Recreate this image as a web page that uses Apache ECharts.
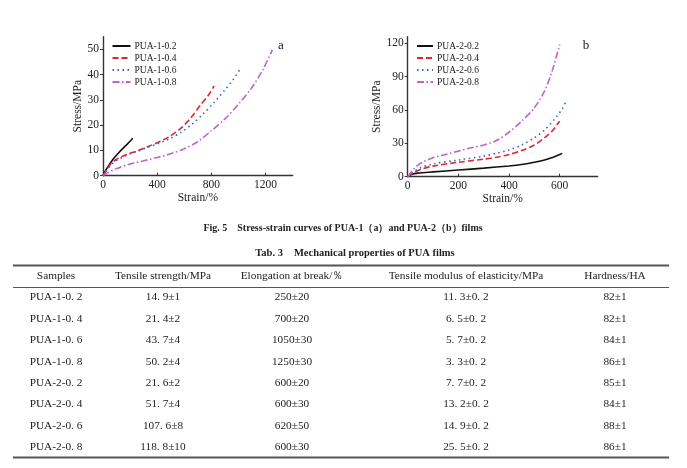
<!DOCTYPE html>
<html>
<head>
<meta charset="utf-8">
<script src="https://cdn.jsdelivr.net/npm/echarts@6/dist/echarts.min.js"></script>
<style>
  html, body { margin: 0; padding: 0; background: #fff; }
  #main { width: 687px; height: 468px; }
</style>
</head>
<body>
<div id="main"></div>
<script>
// Fig. 5 (a): strain %, stress MPa
const pua1_02 = [[0, 0], [10, 1.2], [37, 3.6], [74, 6.5], [123, 9.5], [172, 12.1], [220, 14.8]];
const pua1_04 = [[0, 0], [30, 2.5], [60, 4.8], [100, 6.5], [170, 8.3], [250, 9.8], [330, 11.5], [420, 13.5],
  [500, 15.8], [580, 19], [650, 23], [720, 28], [780, 32], [820, 35.5]];
const pua1_06 = [[0, 0], [30, 2.3], [60, 4.3], [100, 6], [170, 8], [250, 9.6], [330, 11.2], [420, 13],
  [500, 14.8], [580, 17.3], [660, 20.5], [740, 24.5], [820, 29], [900, 34], [960, 38], [1010, 42]];
const pua1_08 = [[0, 0], [40, 1.3], [100, 2.8], [200, 4.6], [300, 5.9], [400, 7.2], [500, 8.7], [600, 10.7],
  [700, 13.5], [800, 17.8], [900, 22.5], [1000, 28.3], [1100, 35], [1180, 42], [1250, 49.8]];

// Fig. 5 (b)
const pua2_02 = [[0, 0], [15, 2], [40, 3.2], [100, 4.3], [200, 6], [300, 7.7], [400, 9.7], [450, 11],
  [500, 13], [550, 15.7], [590, 19], [610, 21]];
const pua2_04 = [[0, 0], [20, 3], [50, 6.5], [100, 9.5], [200, 13], [300, 15.8], [350, 17.5], [400, 20],
  [450, 23.5], [500, 28.5], [540, 35], [570, 41], [590, 47], [600, 50]];
const pua2_06 = [[0, 0], [20, 4], [50, 8], [100, 11.5], [200, 15], [300, 18.5], [350, 21], [400, 24],
  [450, 28.5], [500, 35], [540, 42], [580, 52], [610, 61], [625, 68]];
const pua2_08 = [[0, 0], [20, 6], [50, 12], [100, 17], [150, 20], [200, 23], [250, 26], [300, 28.5],
  [350, 32.5], [400, 40], [450, 50], [500, 62], [540, 77], [570, 95], [600, 119]];

const namesA = ['PUA-1-0.2', 'PUA-1-0.4', 'PUA-1-0.6', 'PUA-1-0.8'];
const namesB = ['PUA-2-0.2', 'PUA-2-0.4', 'PUA-2-0.6', 'PUA-2-0.8'];

const xTicksA = [0, 400, 800, 1200];
const yTicksA = [0, 10, 20, 30, 40, 50];
const xTicksB = [0, 200, 400, 600];
const yTicksB = [0, 30, 60, 90, 120];

// Tab. 3
const tableTitle = 'Tab. 3\u3000Mechanical properties of PUA films';
const caption = 'Fig. 5\u3000Stress-strain curves of PUA-1\uff08a\uff09and PUA-2\uff08b\uff09films';
const headers = ['Samples', 'Tensile strength/MPa', 'Elongation at break/\uff05', 'Tensile modulus of elasticity/MPa', 'Hardness/HA'];
const samples = ['PUA-1-0. 2', 'PUA-1-0. 4', 'PUA-1-0. 6', 'PUA-1-0. 8', 'PUA-2-0. 2', 'PUA-2-0. 4', 'PUA-2-0. 6', 'PUA-2-0. 8'];
const tensile = ['14. 9\u00b11', '21. 4\u00b12', '43. 7\u00b14', '50. 2\u00b14', '21. 6\u00b12', '51. 7\u00b14', '107. 6\u00b18', '118. 8\u00b110'];
const elongation = ['250\u00b120', '700\u00b120', '1050\u00b130', '1250\u00b130', '600\u00b120', '600\u00b130', '620\u00b150', '600\u00b130'];
const modulus = ['11. 3\u00b10. 2', '6. 5\u00b10. 2', '5. 7\u00b10. 2', '3. 3\u00b10. 2', '7. 7\u00b10. 2', '13. 2\u00b10. 2', '14. 9\u00b10. 2', '25. 5\u00b10. 2'];
const hardness = ['82\u00b11', '82\u00b11', '84\u00b11', '86\u00b11', '85\u00b11', '84\u00b11', '88\u00b11', '86\u00b11'];

const FONT = '"Liberation Serif", "Times New Roman", serif';
const colors = ['#111111', '#e8232b', '#3b62c8', '#c462c8'];
const dashes = ['solid', [6, 3], [1.5, 3.5], [7, 2.5, 1.5, 2.5]];

const chart = echarts.init(document.getElementById('main'));

function axisX(gridIndex, max, ticks) {
  return {
    type: 'value', gridIndex, min: 0, max,
    name: 'Strain/%', nameLocation: 'middle', nameGap: 14,
    nameTextStyle: { fontFamily: FONT, fontSize: 11.5, color: '#222' },
    axisLine: { lineStyle: { color: '#333', width: 1.4 } },
    axisTick: { inside: true, length: 3, customValues: ticks, lineStyle: { color: '#333' } },
    axisLabel: { customValues: ticks, formatter: v => String(v), margin: 3, fontFamily: FONT, fontSize: 11.5, color: '#222' },
    splitLine: { show: false }
  };
}

function axisY(gridIndex, max, ticks) {
  return {
    type: 'value', gridIndex, min: 0, max,
    name: 'Stress/MPa', nameLocation: 'middle', nameGap: 16,
    nameTextStyle: { fontFamily: FONT, fontSize: 11.5, color: '#222' },
    axisLine: { show: true, lineStyle: { color: '#333', width: 1.4 } },
    axisTick: { show: true, length: 3, customValues: ticks, lineStyle: { color: '#333' } },
    axisLabel: { customValues: ticks, formatter: v => String(v), margin: 4, fontFamily: FONT, fontSize: 11.5, color: '#222' },
    splitLine: { show: false }
  };
}

function lineSeries(name, data, i, axis) {
  return {
    name, type: 'line', data, xAxisIndex: axis, yAxisIndex: axis,
    symbol: 'none', smooth: 0.3,
    lineStyle: { color: colors[i], width: 1.6, type: dashes[i] },
    itemStyle: { color: colors[i] }
  };
}

function legend(names, left, width) {
  return {
    data: names, orient: 'vertical', left, top: 41,
    itemWidth: width, itemHeight: 8, itemGap: 2, padding: 0,
    selectedMode: false,
    itemStyle: { opacity: 0 },
    textStyle: { fontFamily: FONT, fontSize: 9.5, color: '#222', padding: [0, 0, 0, -1] }
  };
}

// table layout
const colX = [56, 163, 292, 466, 615];
const headerY = 276.5;
const rowY0 = 297.5;
const rowStep = 21.4;
const columns = [samples, tensile, elongation, modulus, hardness];

function txt(x, y, text, font) {
  return { type: 'text', x, y, style: { text, font, fill: '#222', textAlign: 'center', textVerticalAlign: 'middle', align: 'center', verticalAlign: 'middle' } };
}

const graphics = [
  txt(281, 46, 'a', '13px ' + FONT),
  txt(586, 46, 'b', '13px ' + FONT),
  txt(343, 228, caption, 'bold 10px ' + FONT),
  txt(355, 253, tableTitle, 'bold 10.5px ' + FONT),
  { type: 'line', shape: { x1: 13, y1: 265.5, x2: 669, y2: 265.5 }, style: { stroke: '#555', lineWidth: 2 } },
  { type: 'line', shape: { x1: 13, y1: 287.5, x2: 669, y2: 287.5 }, style: { stroke: '#555', lineWidth: 1 } },
  { type: 'line', shape: { x1: 13, y1: 457.5, x2: 669, y2: 457.5 }, style: { stroke: '#555', lineWidth: 2 } }
];
headers.forEach((h, c) => graphics.push(txt(colX[c], headerY, h, '11.3px ' + FONT)));
columns.forEach((col, c) => {
  col.forEach((v, r) => graphics.push(txt(colX[c], rowY0 + r * rowStep, v, '11.3px ' + FONT)));
});

const option = {
  backgroundColor: '#fff',
  animation: false,
  grid: [
    { left: 103, right: 394.3, top: 36.7, bottom: 292.3 },
    { left: 407.7, right: 89.3, top: 36.7, bottom: 291.3 }
  ],
  xAxis: [axisX(0, 1400, xTicksA), axisX(1, 750, xTicksB)],
  yAxis: [axisY(0, 55, yTicksA), axisY(1, 126, yTicksB)],
  legend: [legend(namesA, 111.5, 18), legend(namesB, 416, 16)],
  series: [
    lineSeries(namesA[0], pua1_02, 0, 0),
    lineSeries(namesA[1], pua1_04, 1, 0),
    lineSeries(namesA[2], pua1_06, 2, 0),
    lineSeries(namesA[3], pua1_08, 3, 0),
    lineSeries(namesB[0], pua2_02, 0, 1),
    lineSeries(namesB[1], pua2_04, 1, 1),
    lineSeries(namesB[2], pua2_06, 2, 1),
    lineSeries(namesB[3], pua2_08, 3, 1)
  ],
  graphic: graphics
};
chart.setOption(option);
</script>
</body>
</html>
